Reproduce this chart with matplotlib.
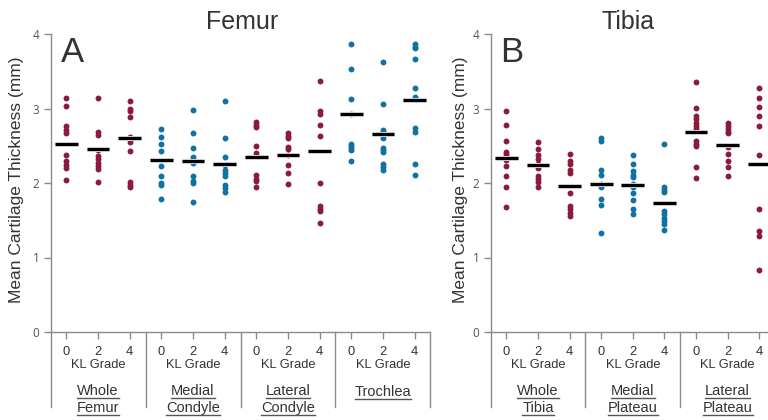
import matplotlib
matplotlib.use("Agg")
import matplotlib.pyplot as plt
from matplotlib.transforms import blended_transform_factory

RED = "#8c1a3a"
BLUE = "#1171a1"
GRAY = "#8a8a8a"
TXT = "#333333"

kl_labels = ["0", "2", "4"]

# ---- Femur: values per region, KL grade 0 / 2 / 4 ----
femur_regions = [["Whole", "Femur"], ["Medial", "Condyle"], ["Lateral", "Condyle"], ["Trochlea"]]
femur_colors = [RED, BLUE, RED, BLUE]

femur_whole = [
    [3.14, 3.04, 2.76, 2.71, 2.67, 2.38, 2.29, 2.24, 2.20, 2.04],
    [3.14, 2.69, 2.64, 2.44, 2.36, 2.32, 2.27, 2.23, 2.19, 2.02],
    [3.10, 2.99, 2.97, 2.88, 2.62, 2.55, 2.43, 2.02, 1.97, 1.94],
]
femur_medial = [
    [2.72, 2.62, 2.52, 2.43, 2.23, 2.09, 2.00, 1.97, 1.79],
    [2.98, 2.67, 2.47, 2.35, 2.31, 2.27, 2.09, 2.03, 2.00, 1.74],
    [3.10, 2.60, 2.35, 2.24, 2.17, 2.13, 2.09, 1.97, 1.93, 1.88],
]
femur_lateral = [
    [2.82, 2.78, 2.75, 2.50, 2.40, 2.36, 2.11, 2.06, 2.03, 1.95],
    [2.67, 2.63, 2.61, 2.48, 2.45, 2.37, 2.24, 2.14, 1.98],
    [3.37, 2.97, 2.93, 2.78, 2.63, 2.00, 1.69, 1.65, 1.62, 1.46],
]
femur_trochlea = [
    [3.86, 3.53, 3.13, 2.93, 2.53, 2.50, 2.47, 2.44, 2.30],
    [3.63, 3.06, 2.71, 2.69, 2.60, 2.47, 2.44, 2.41, 2.25, 2.22, 2.18],
    [3.86, 3.83, 3.81, 3.66, 3.28, 3.16, 2.74, 2.68, 2.26, 2.11],
]
femur_means = [
    [2.53, 2.45, 2.61],
    [2.31, 2.29, 2.26],
    [2.35, 2.37, 2.43],
    [2.93, 2.66, 3.12],
]

# ---- Tibia ----
tibia_regions = [["Whole", "Tibia"], ["Medial", "Plateau"], ["Lateral", "Plateau"]]
tibia_colors = [RED, BLUE, RED]

tibia_whole = [
    [2.97, 2.78, 2.56, 2.41, 2.39, 2.31, 2.23, 2.10, 1.95, 1.68],
    [2.55, 2.46, 2.38, 2.32, 2.25, 2.20, 2.10, 2.06, 2.01, 1.94],
    [2.39, 2.30, 2.25, 2.18, 2.13, 1.86, 1.69, 1.65, 1.60, 1.56],
]
tibia_medial = [
    [2.61, 2.56, 2.17, 2.11, 1.98, 1.94, 1.79, 1.70, 1.33],
    [2.37, 2.25, 2.16, 2.11, 2.08, 1.98, 1.95, 1.87, 1.77, 1.65, 1.58],
    [2.53, 1.94, 1.91, 1.88, 1.62, 1.58, 1.53, 1.49, 1.45, 1.37],
]
tibia_lateral = [
    [3.35, 3.01, 2.90, 2.86, 2.81, 2.77, 2.73, 2.56, 2.52, 2.50, 2.21, 2.07],
    [2.80, 2.77, 2.73, 2.69, 2.67, 2.48, 2.39, 2.30, 2.21, 2.10],
    [3.27, 3.14, 3.02, 2.90, 2.77, 2.37, 1.65, 1.35, 1.29, 0.83],
]
tibia_means = [
    [2.33, 2.24, 1.96],
    [1.99, 1.97, 1.73],
    [2.69, 2.51, 2.26],
]

W, H = 768, 420
fig = plt.figure(figsize=(W / 100, H / 100), dpi=100)


def px_rect(l, t, r, b):
    return [l / W, 1 - b / H, (r - l) / W, (b - t) / H]


def fy(y_px):
    return 1 - y_px / H


underlines = []


def panel(ax, regions, colors, data, means, title, title_x, letter, letter_x, ylab_x):
    n = len(regions)
    for g in range(n):
        for k in range(3):
            x = g * 3 + k
            vals = data[g][k]
            ax.scatter([x] * len(vals), vals, s=18, color=colors[g], lw=0, zorder=3)
            ax.plot([x - 0.36, x + 0.36], [means[g][k]] * 2, color="#d0d0d0",
                    lw=3.6, solid_capstyle="butt", zorder=4)
            ax.plot([x - 0.36, x + 0.36], [means[g][k]] * 2, color="black",
                    lw=2.2, solid_capstyle="butt", zorder=5)

    ax.set_xlim(-0.5, n * 3 - 0.5)
    ax.set_ylim(0, 4)
    ax.set_yticks([0, 1, 2, 3, 4])
    ax.set_xticks([g * 3 + k for g in range(n) for k in range(3)])
    ax.set_xticklabels(kl_labels * n, fontsize=9.3, color=TXT, family="Liberation Sans")
    ax.tick_params(axis="x", length=5, width=1, color=GRAY, pad=5)
    ax.tick_params(axis="y", length=5, width=1, color=GRAY, pad=3,
                   labelsize=8.5, labelcolor="#555555")
    for lab in ax.get_yticklabels():
        lab.set_family("Open Sans")
    for s in ["top", "right"]:
        ax.spines[s].set_visible(False)
    for s in ["left", "bottom"]:
        ax.spines[s].set_color(GRAY)
        ax.spines[s].set_linewidth(1)

    tr = blended_transform_factory(ax.transData, fig.transFigure)
    # separators below axis
    for xs in [-0.5] + [g * 3 + 2.5 for g in range(n)]:
        ax.plot([xs, xs], [fy(332), fy(407)], transform=tr, color=GRAY,
                lw=1, clip_on=False)
    for g in range(n):
        xc = g * 3 + 1
        ax.text(xc, fy(365), "KL Grade", transform=tr, ha="center", va="center",
                fontsize=9.3, color=TXT, family="Liberation Sans")
        lines = regions[g]
        bases = [395, 412] if len(lines) == 2 else [396]
        for line, b in zip(lines, bases):
            t = ax.text(xc, fy(b), line, transform=tr, ha="center", va="baseline",
                        fontsize=10.5, color=TXT, family="Liberation Sans")
            underlines.append((t, b + 3))

    fig.text(title_x / W, fy(29), title, ha="center", va="baseline",
             fontsize=18, color=TXT, family="Liberation Sans")
    fig.text(letter_x / W, fy(62), letter, ha="left", va="baseline",
             fontsize=25, color=TXT, family="Liberation Sans")
    fig.text(ylab_x / W, fy(180), "Mean Cartilage Thickness (mm)", rotation=90,
             ha="center", va="center", fontsize=12.5, color=TXT,
             family="Liberation Sans")


ax1 = fig.add_axes(px_rect(50.5, 34, 430.5, 332))
ax2 = fig.add_axes(px_rect(490.7, 34, 775, 332))

panel(ax1, femur_regions, femur_colors,
      [femur_whole, femur_medial, femur_lateral, femur_trochlea], femur_means,
      "Femur", 242, "A", 61, 17)
panel(ax2, tibia_regions, tibia_colors,
      [tibia_whole, tibia_medial, tibia_lateral], tibia_means,
      "Tibia", 628, "B", 500, 460)

# underline the region names
fig.canvas.draw()
r = fig.canvas.get_renderer()
for t, yu in underlines:
    bb = t.get_window_extent(renderer=r)
    fig.add_artist(plt.Line2D([bb.x0 / W, bb.x1 / W], [fy(yu), fy(yu)],
                              color="#555555", lw=1))

fig.savefig("out.png", dpi=100)
